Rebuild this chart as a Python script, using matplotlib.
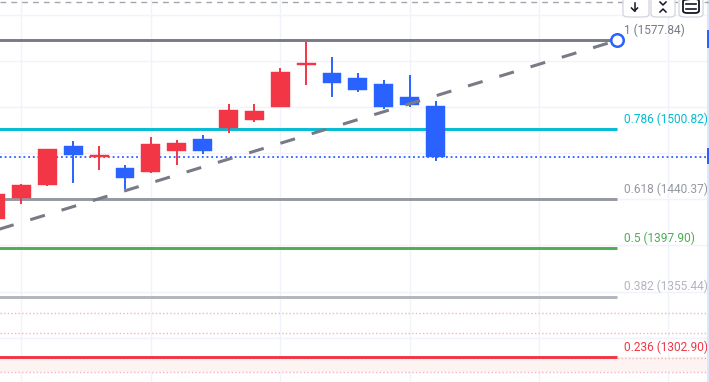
import matplotlib
matplotlib.use("Agg")
import matplotlib.pyplot as plt
from matplotlib.patches import Rectangle, FancyBboxPatch
from matplotlib.lines import Line2D

# ---------------- data ----------------
opens  = [1422.96, 1441.18, 1452.46, 1486.3, 1476.8, 1467.2, 1463.7, 1482.0, 1492.4,
          1501.9, 1508.9, 1520.1, 1556.6, 1549.6, 1545.3, 1540.1, 1528.8, 1521.0]
highs  = [1448.1, 1453.3, 1483.7, 1490.6, 1486.3, 1469.8, 1494.1, 1491.5, 1495.8,
          1522.7, 1522.7, 1554.0, 1576.5, 1563.5, 1549.6, 1543.6, 1547.9, 1525.3]
lows   = [1419.5, 1435.98, 1451.6, 1454.2, 1465.5, 1449.0, 1463.0, 1469.8, 1479.4,
          1497.6, 1507.1, 1520.1, 1539.2, 1528.8, 1533.2, 1518.4, 1520.1, 1473.3]
closes = [1444.65, 1452.46, 1483.7, 1478.5, 1478.3, 1458.5, 1488.0, 1488.9, 1482.0,
          1517.5, 1516.7, 1550.5, 1558.2, 1541.0, 1534.9, 1520.1, 1521.9, 1476.8]

fib_ratios = ["1", "0.786", "0.618", "0.5", "0.382", "0.236"]
fib_prices = [1577.84, 1500.82, 1440.37, 1397.90, 1355.44, 1302.90]
fib_colors = ["#787B86", "#00BCD4", "#9598A1", "#4CAF50", "#B2B5BE", "#F23645"]

trend_x = [-2, 24]
trend_y = [1399.4, 1577.84]
fib_end_x = 24

extra_dotted = [1341.4, 1324.0, 1290.2]
grid_prices = [1600, 1560, 1520, 1480, 1440, 1400, 1360, 1320]
grid_bars = [1, 6, 11, 16, 21, 26]

UP = "#F23645"
DOWN = "#2962FF"

W, H = 709, 382
fig = plt.figure(figsize=(W / 100, H / 100), dpi=100)
ax = fig.add_axes([0, 0, 1, 1])
ax.set_xlim(0.170, 27.566)
ax.set_ylim(1281.5, 1612.98)
ax.axis("off")

# grid
for gp in grid_prices:
    ax.axhline(gp, color="#F0F3FA", lw=1.0, zorder=0)
for gb in grid_bars:
    ax.axvline(gb, color="#F0F3FA", lw=1.0, zorder=0)

# pink zone / dotted lines
ax.axhspan(extra_dotted[2], fib_prices[5], color="#FDF3F3", lw=0, zorder=0.5)
for p in extra_dotted + [fib_prices[5] - 0.3]:
    ax.axhline(p, color="#F7B3BA", lw=1.0, ls=(0, (1, 1.6)), zorder=0.6)

# fib levels
for r, p, c in zip(fib_ratios, fib_prices, fib_colors):
    ax.plot([-5, fib_end_x], [p, p], color=c, lw=2.1, solid_capstyle="butt", zorder=2)
    ax.annotate(f"{r} ({p:.2f})", xy=(fib_end_x, p), xytext=(7, 10),
                textcoords="offset pixels", color=c, fontsize=8.6,
                family="Roboto", va="center", ha="left", zorder=5)

# current price dotted line
ax.axhline(closes[-1], color=DOWN, lw=1.3, ls=(0, (1, 1.6)), zorder=1.5)

# candles
bw = 0.73
for i, (o, h, l, c) in enumerate(zip(opens, highs, lows, closes)):
    col = UP if c >= o else DOWN
    ax.plot([i, i], [l, h], color=col, lw=1.4, zorder=3, solid_capstyle="butt")
    ax.add_patch(Rectangle((i - bw / 2, min(o, c)), bw, abs(c - o),
                           facecolor=col, edgecolor=col, lw=0.3, zorder=3.5))

# trend line
ln, = ax.plot(trend_x, trend_y, color="#787B86", lw=2.2, zorder=4, solid_capstyle="butt")
ln.set_dashes((5, 5.7))
ln.set_dash_capstyle("butt")
ax.plot([trend_x[1]], [trend_y[1]], marker="o", ms=9, mfc="white", mec=DOWN, mew=1.8, zorder=6)

# ---------- decorations (pixel coordinates) ----------
def fx(x):
    return x / W
def fy(y):
    return 1 - y / H

# top dashed border
l = Line2D([0, 1], [fy(1.7), fy(1.7)], transform=fig.transFigure, color="#A3A6AF",
           lw=1.0, ls=(0, (4.2, 3.6)))
fig.add_artist(l)

# right edge strip and price label stubs
fig.add_artist(Rectangle((fx(706.5), 0), fx(2.5), 1, transform=fig.transFigure,
                         facecolor="#DCE6FF", edgecolor="none"))
fig.add_artist(Rectangle((fx(706.5), fy(48)), fx(2.5), 18 / H, transform=fig.transFigure,
                         facecolor=DOWN, edgecolor="none"))
fig.add_artist(Rectangle((fx(706.5), fy(164)), fx(2.5), 16 / H, transform=fig.transFigure,
                         facecolor=DOWN, edgecolor="none"))

# buttons
for x0, x1 in [(623, 649), (651, 675), (679, 703)]:
    fig.add_artist(FancyBboxPatch((fx(x0), fy(17)), fx(x1 - x0), 25 / H,
                                  boxstyle="round,pad=0,rounding_size=0.008",
                                  transform=fig.transFigure, facecolor="white",
                                  edgecolor="#D1D4DC", lw=0.9, zorder=10))
def seg(xs, ys, lw=1.1, col="#131722"):
    fig.add_artist(Line2D([fx(v) for v in xs], [fy(v) for v in ys],
                          transform=fig.transFigure, color=col, lw=lw, zorder=11))
# down arrow
seg([634.5, 634.5], [3, 11])
seg([631.5, 634.5, 637.5], [8, 11, 8])
# chevrons
seg([660, 663, 666], [2, 5, 2])
seg([660, 663, 666], [12, 9, 12])
# screenshot-like icon
fig.add_artist(FancyBboxPatch((fx(683), fy(13)), fx(16), 14 / H,
                              boxstyle="round,pad=0,rounding_size=0.006",
                              transform=fig.transFigure, facecolor="none",
                              edgecolor="#131722", lw=1.3, zorder=11))
seg([686, 696], [4, 4], lw=1.2)
seg([686, 696], [9, 9], lw=1.2)

fig.savefig("out.png", dpi=100)
